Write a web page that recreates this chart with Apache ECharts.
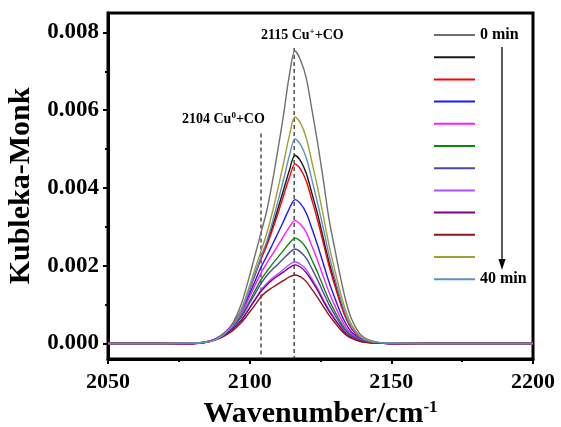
<!DOCTYPE html>
<html>
<head>
<meta charset="utf-8">
<script src="https://cdn.jsdelivr.net/npm/echarts@6/dist/echarts.min.js"></script>
<style>html,body{margin:0;padding:0;background:#fff;}#c{width:561px;height:427px;}</style>
</head>
<body>
<div id="c"></div>
<script>
var wavenumbers = [2050,2060,2070,2080,2084,2088,2091,2094,2097,2100,2102,2104,2106,2108,2110,2112,2114,2116,2118,2120,2122,2124,2126,2128,2130,2132,2134,2136,2139,2142,2146,2150,2160,2170,2180,2190,2200];

var seriesNames = ['0 min','t1','t2','t3','t4','t5','t6','t7','t8','t9','t10','40 min'];
var seriesColors = ['#6f6f6f','#1a1a1a','#ff0000','#1a1aff','#ff1aff','#0a8a0a','#4a4aa0','#b050ff','#800080','#8b1a1a','#a0a030','#5b8fcf'];

var s0  = [0,0,0,0.00001,0.00003,0.00010,0.00025,0.00052,0.00100,0.00175,0.00230,0.00285,0.00340,0.00415,0.00500,0.00590,0.00690,0.00753,0.00728,0.00682,0.00600,0.00515,0.00420,0.00320,0.00245,0.00172,0.00108,0.00062,0.00024,0.00009,0.00002,0.00001,0,0,0,0,0];
var s1  = [0,0,0,0,0.00003,0.00011,0.00025,0.00048,0.00085,0.00140,0.00180,0.00220,0.00256,0.00299,0.00347,0.00396,0.00445,0.00484,0.00469,0.00437,0.00385,0.00332,0.00270,0.00210,0.00158,0.00108,0.00067,0.00039,0.00015,0.00005,0.00001,0,0,0,0,0,0];
var s2  = [0,0,0,0,0.00003,0.00011,0.00026,0.00049,0.00085,0.00139,0.00178,0.00217,0.00251,0.00292,0.00335,0.00381,0.00426,0.00462,0.00448,0.00417,0.00368,0.00316,0.00258,0.00200,0.00150,0.00103,0.00064,0.00037,0.00014,0.00005,0.00001,0,0,0,0,0,0];
var s3  = [0,0,0,0,0.00003,0.00012,0.00027,0.00048,0.00080,0.00128,0.00162,0.00196,0.00224,0.00254,0.00284,0.00315,0.00347,0.00370,0.00359,0.00335,0.00295,0.00252,0.00205,0.00158,0.00118,0.00080,0.00050,0.00029,0.00011,0.00004,0.00001,0,0,0,0,0,0];
var s4  = [0,0,0,0,0.00003,0.00012,0.00026,0.00047,0.00076,0.00120,0.00151,0.00181,0.00206,0.00229,0.00252,0.00276,0.00299,0.00316,0.00306,0.00285,0.00250,0.00213,0.00172,0.00132,0.00098,0.00067,0.00041,0.00024,0.00009,0.00003,0.00001,0,0,0,0,0,0];
var s5  = [0,0,0,0,0.00002,0.00011,0.00025,0.00043,0.00070,0.00109,0.00137,0.00164,0.00185,0.00204,0.00222,0.00240,0.00258,0.00271,0.00263,0.00245,0.00214,0.00182,0.00146,0.00112,0.00083,0.00056,0.00034,0.00020,0.00008,0.00003,0.00001,0,0,0,0,0,0];
var s6  = [0,0,0,0,0.00002,0.00011,0.00024,0.00042,0.00067,0.00104,0.00129,0.00154,0.00174,0.00190,0.00204,0.00219,0.00233,0.00243,0.00235,0.00219,0.00192,0.00163,0.00131,0.00100,0.00074,0.00050,0.00031,0.00018,0.00007,0.00003,0.00001,0,0,0,0,0,0];
var s7  = [0,0,0,0,0.00002,0.00010,0.00022,0.00038,0.00060,0.00093,0.00115,0.00138,0.00154,0.00168,0.00179,0.00191,0.00203,0.00210,0.00203,0.00190,0.00166,0.00141,0.00113,0.00087,0.00064,0.00043,0.00026,0.00015,0.00006,0.00002,0.00001,0,0,0,0,0,0];
var s8  = [0,0,0,0,0.00002,0.00010,0.00021,0.00037,0.00059,0.00091,0.00113,0.00134,0.00150,0.00163,0.00174,0.00184,0.00195,0.00202,0.00196,0.00182,0.00160,0.00136,0.00109,0.00083,0.00062,0.00042,0.00025,0.00015,0.00006,0.00002,0.00001,0,0,0,0,0,0];
var s9  = [0,0,0,0,0.00002,0.00009,0.00019,0.00033,0.00053,0.00081,0.00100,0.00120,0.00134,0.00144,0.00153,0.00162,0.00171,0.00176,0.00171,0.00159,0.00139,0.00118,0.00095,0.00073,0.00054,0.00036,0.00022,0.00013,0.00005,0.00002,0.00001,0,0,0,0,0,0];
var s10 = [0,0,0,0.00001,0.00003,0.00010,0.00024,0.00047,0.00087,0.00149,0.00194,0.00238,0.00282,0.00337,0.00399,0.00465,0.00534,0.00583,0.00566,0.00528,0.00466,0.00400,0.00328,0.00253,0.00190,0.00132,0.00082,0.00048,0.00019,0.00007,0.00002,0.00001,0,0,0,0,0];
var s11 = [0,0,0,0.00001,0.00003,0.00010,0.00024,0.00046,0.00083,0.00140,0.00181,0.00223,0.00262,0.00311,0.00366,0.00423,0.00482,0.00526,0.00511,0.00477,0.00420,0.00360,0.00295,0.00228,0.00170,0.00117,0.00072,0.00042,0.00016,0.00006,0.00002,0.00001,0,0,0,0,0];

var allSeries = [s0,s1,s2,s3,s4,s5,s6,s7,s8,s9,s10,s11];

var yMajorTicks = [0, 0.002, 0.004, 0.006, 0.008];
var yMinorTicks = [0.001, 0.003, 0.005, 0.007];
var cu0Line = [[2104, 0.0054], [2104, -0.0004]];
var cuPlusLine = [[2115.7, 0.0076], [2115.7, -0.0004]];

var FONT = 'Liberation Serif, Times New Roman, serif';

function pair(xs, ys){ return xs.map(function(x,i){ return [x, ys[i]]; }); }

var series = allSeries.map(function(arr, i){
  return {
    name: seriesNames[i], type: 'line', data: pair(wavenumbers, arr),
    showSymbol: false, symbol: 'none', smooth: 0.3, z: 3,
    lineStyle: { width: 1.4, color: seriesColors[i] }, itemStyle: { color: seriesColors[i] }
  };
});
series.push({ type: 'line', data: cu0Line, symbol: 'none', silent: true, z: 2,
  lineStyle: { type: [4,3], color: '#222', width: 1.2 } });
series.push({ type: 'line', data: cuPlusLine, symbol: 'none', silent: true, z: 2,
  lineStyle: { type: [4,3], color: '#222', width: 1.2 } });

var chart = echarts.init(document.getElementById('c'), null, { renderer: 'canvas' });
chart.setOption({
  animation: false,
  backgroundColor: '#fff',
  grid: { left: 108, right: 28, top: 13, bottom: 68, containLabel: false, outerBoundsMode: 'none',
    show: true, borderColor: '#000', borderWidth: 3, backgroundColor: 'transparent' },
  legend: {
    data: seriesNames, orient: 'vertical', left: 429, top: 22,
    icon: 'rect', itemWidth: 41, itemHeight: 2, itemGap: 6.2,
    formatter: function(n){ return (n === '0 min' || n === '40 min') ? n : ' '; },
    textStyle: { fontFamily: FONT, fontWeight: 'bold', fontSize: 16, color: '#000', lineHeight: 16 },
    selectedMode: false
  },
  xAxis: {
    type: 'value', min: 2050, max: 2200, interval: 50,
    name: '{t|Wavenumber/cm}{s|-1}', nameLocation: 'middle', nameGap: 40,
    nameTextStyle: { rich: {
      t: { fontFamily: FONT, fontWeight: 'bold', fontSize: 30, color: '#000' },
      s: { fontFamily: FONT, fontWeight: 'bold', fontSize: 17, color: '#000', verticalAlign: 'top', padding: [0,0,14,0] }
    } },
    axisLine: { show: true, onZero: false, lineStyle: { color: '#000', width: 3 } },
    axisTick: { show: true, inside: false, length: 5, lineStyle: { color: '#000', width: 2 } },
    minorTick: { show: true, splitNumber: 2, length: 3, lineStyle: { color: '#000', width: 2 } },
    splitLine: { show: false },
    axisLabel: { fontFamily: FONT, fontWeight: 'bold', fontSize: 22, color: '#000', margin: 12,
      formatter: function(v){ return String(v); } }
  },
  yAxis: [{
    type: 'value', min: -0.0004, max: 0.0085,
    name: 'Kubleka-Monk', nameLocation: 'middle', nameGap: 70,
    nameTextStyle: { fontFamily: FONT, fontWeight: 'bold', fontSize: 30, color: '#000' },
    axisLine: { show: true, onZero: false, lineStyle: { color: '#000', width: 3 } },
    axisTick: { show: true, inside: false, length: 5, customValues: yMajorTicks, lineStyle: { color: '#000', width: 2 } },
    splitLine: { show: false },
    axisLabel: { customValues: yMajorTicks, fontFamily: FONT, fontWeight: 'bold', fontSize: 23, color: '#000', margin: 9,
      formatter: function(v){ return v.toFixed(3); } }
  }, {
    type: 'value', min: -0.0004, max: 0.0085, position: 'left',
    axisLine: { show: false },
    axisTick: { show: true, inside: false, length: 3, customValues: yMinorTicks, lineStyle: { color: '#000', width: 2 } },
    axisLabel: { show: false }, splitLine: { show: false }
  }],
  graphic: [
    { type: 'text', left: 261, top: 27, style: {
      text: '{a|2115 Cu}{s|+}{a|+CO}',
      rich: { a: { fontFamily: FONT, fontWeight: 'bold', fontSize: 14, color: '#000' },
              s: { fontFamily: FONT, fontWeight: 'bold', fontSize: 9, color: '#000', verticalAlign: 'top', padding: [0,0,8,0] } } } },
    { type: 'text', left: 182, top: 111, style: {
      text: '{a|2104 Cu}{s|0}{a|+CO}',
      rich: { a: { fontFamily: FONT, fontWeight: 'bold', fontSize: 14, color: '#000' },
              s: { fontFamily: FONT, fontWeight: 'bold', fontSize: 9, color: '#000', verticalAlign: 'top', padding: [0,0,8,0] } } } },
    { type: 'line', shape: { x1: 502, y1: 47, x2: 502, y2: 262 }, style: { stroke: '#000', lineWidth: 1.3 } },
    { type: 'polygon', shape: { points: [[498.5,259],[505.5,259],[502,270]] }, style: { fill: '#000' } }
  ],
  series: series
});
</script>
</body>
</html>
